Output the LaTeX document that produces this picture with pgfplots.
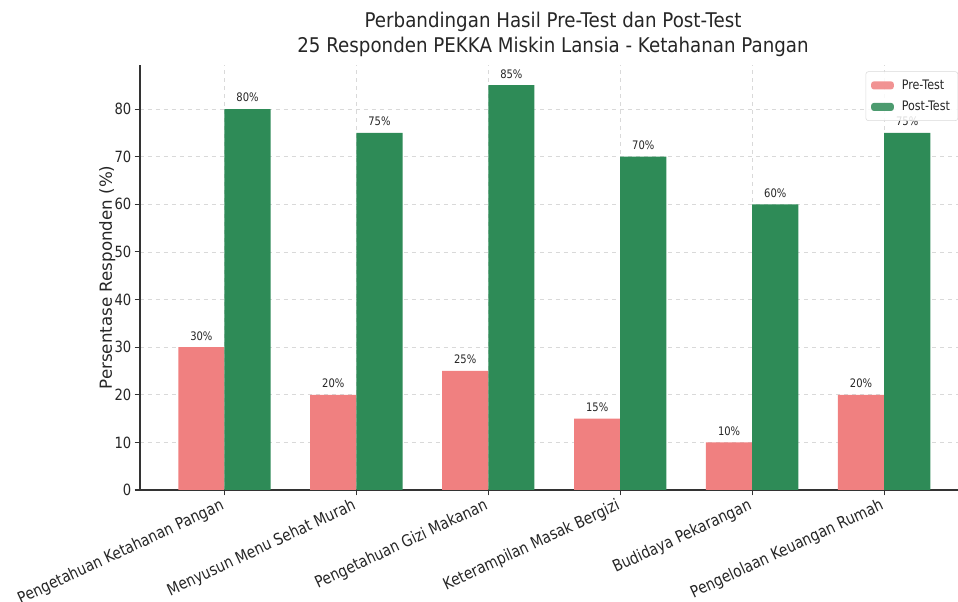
\documentclass[border=0pt]{standalone}
\usepackage{fontspec}
\setmainfont[FakeStretch=0.85]{DejaVu Sans}
\newfontfamily\ylabfont{DejaVu Sans}
\newfontfamily\titlefont[FakeStretch=0.9]{DejaVu Sans}
\usepackage{pgfplots}
\pgfplotsset{compat=1.18}
\definecolor{pre}{HTML}{F08080}
\definecolor{post}{HTML}{2E8B57}
\definecolor{spine}{HTML}{333333}
\definecolor{txt}{HTML}{262626}
\begin{document}
\begin{tikzpicture}
\path[use as bounding box] (-105pt,-84pt) rectangle (613.5pt,367.5pt);
\begin{axis}[
  at={(0,0)}, anchor=south west,
  scale only axis, width=613.5pt, height=318.75pt,
  xmin=-0.64, xmax=5.56, ymin=0, ymax=89.25,
  axis x line*=bottom, axis y line*=left,
  axis line style={spine, line width=0.9pt, -},
  /pgf/number format/assume math mode=true,
  ybar, bar width=0.35,
  xtick={0,1,2,3,4,5},
  xticklabels={Pengetahuan Ketahanan Pangan, Menyusun Menu Sehat Murah, Pengetahuan Gizi Makanan, Keterampilan Masak Bergizi, Budidaya Pekarangan, Pengelolaan Keuangan Rumah},
  xticklabel style={rotate=25, anchor=north east, font=\fontsize{12.2}{15}\selectfont, text=txt, inner sep=1pt, xshift=-3pt, yshift=1pt},
  ytick={0,10,...,80},
  yticklabel style={font=\fontsize{11.6}{14}\selectfont, text=txt, xshift=1pt},
  tick align=outside, tick style={spine, line width=0.8pt}, major tick length=4pt,
  xmajorgrids, ymajorgrids, grid style={dashed, gray!30, line width=0.5pt},
  ylabel={Persentase Responden (\%)},
  ylabel style={font=\ylabfont\fontsize{12.5}{15}\selectfont, text=txt, at={(axis description cs:-0.040,0.5)}, anchor=center},
  nodes near coords={\pgfmathprintnumber{\pgfplotspointmeta}\%},
  nodes near coords style={font=\fontsize{8.8}{10}\selectfont, text=txt, anchor=south, inner sep=0pt, yshift=5pt},
  legend style={at={(0.887,0.985)}, anchor=north west, draw=gray!30, rounded corners=2pt, fill=white, fill opacity=0.85, text opacity=1, font=\fontsize{9.8}{12}\selectfont, text=txt, row sep=3.5pt, inner sep=4pt},
  legend cell align=left,
  legend image code/.code={\fill[#1] (0pt,-3pt) rectangle (17pt,3pt); \path (21pt,0pt);},
]
\addplot[fill=pre, draw=none, bar shift=-0.175] coordinates {(0,30) (1,20) (2,25) (3,15) (4,10) (5,20)};
\addplot[fill=post, draw=none, bar shift=0.175] coordinates {(0,80) (1,75) (2,85) (3,70) (4,60) (5,75)};
\legend{Pre-Test, Post-Test}
\end{axis}
\node[align=center, text=txt, font=\titlefont\fontsize{15.2}{18.75}\selectfont] at (309.75pt,341.6pt) {Perbandingan Hasil Pre-Test dan Post-Test\\25 Responden PEKKA Miskin Lansia - Ketahanan Pangan};
\end{tikzpicture}
\end{document}
